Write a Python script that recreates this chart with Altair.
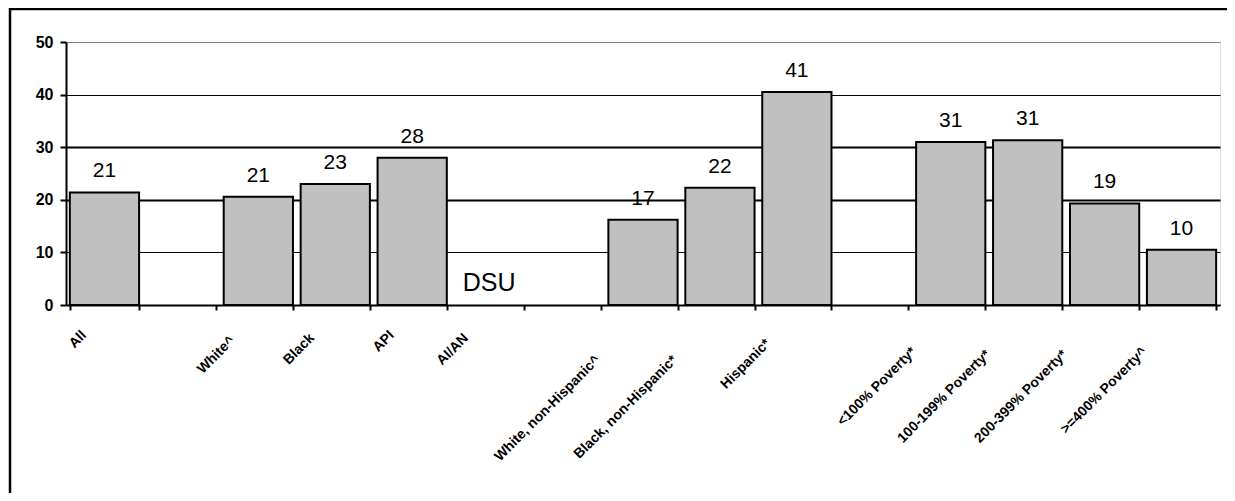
import altair as alt
import pandas as pd

categories = [
    "All", " ", "White^", "Black", "API", "AI/AN", "  ",
    "White, non-Hispanic^", "Black, non-Hispanic*", "Hispanic*", "   ",
    "<100% Poverty*", "100-199% Poverty*", "200-399% Poverty*", ">=400% Poverty^",
]
values = [21.4, None, 20.6, 23.0, 28.0, None, None,
          16.2, 22.3, 40.5, None,
          31.0, 31.3, 19.3, 10.5]
value_labels = ["21", "", "21", "23", "28", "DSU", "",
                "17", "22", "41", "",
                "31", "31", "19", "10"]
y_ticks = [0, 10, 20, 30, 40, 50]

df = pd.DataFrame({"category": categories, "value": values, "label": value_labels})

FONT = "Liberation Sans"

x_enc = alt.X(
    "category:N",
    scale=alt.Scale(domain=categories, paddingInner=0.1, paddingOuter=0.05),
    title=None,
    axis=alt.Axis(
        labelAngle=-45,
        labelAlign="right",
        labelBaseline="middle",
        labelFontSize=14,
        labelFontWeight="bold",
        labelFont=FONT,
        labelColor="black",
        labelPadding=20,
        labelOffset=-18,
        labelLimit=500,
        labelOverlap=False,
        labelExpr="pad(datum.label, floor(length(datum.label) * 1.5), '\u00a0') + '\u200b'",
        tickBand="extent",
        tickSize=5,
        tickWidth=2,
        tickColor="black",
        domainColor="black",
        domainWidth=2,
        grid=False,
    ),
)

y_scale = alt.Scale(domain=[0, 50], nice=False)
y_axis = alt.Axis(
    values=y_ticks,
    labelFontSize=16,
    labelFontWeight="bold",
    labelFont=FONT,
    labelColor="black",
    labelPadding=7,
    tickSize=6,
    tickWidth=2,
    tickColor="black",
    domainColor="black",
    domainWidth=2,
    grid=True,
    gridColor={"condition": {"test": "datum.value == 50", "value": "#808080"}, "value": "black"},
    gridWidth={"condition": {"test": "datum.value == 20 || datum.value == 30", "value": 2}, "value": 1},
    title=None,
)

base = alt.Chart(df)

bars = base.transform_filter("isValid(datum.value)").mark_bar(
    color="#C0C0C0", stroke="black", strokeWidth=2
).encode(
    x=x_enc,
    y=alt.Y("value:Q", scale=y_scale, axis=y_axis),
)

nums = base.transform_filter("isValid(datum.value)").mark_text(
    fontSize=21, font=FONT, color="black", baseline="alphabetic", dy=-15
).encode(
    x=alt.X("category:N"),
    y=alt.Y("value:Q"),
    text="label:N",
)

dsu = base.transform_filter("datum.label == 'DSU'").mark_text(
    fontSize=25, font=FONT, color="black", baseline="alphabetic", dy=-14
).encode(
    x=alt.X("category:N"),
    y=alt.Y(datum=0),
    text="label:N",
)

frame = alt.Chart(pd.DataFrame({"f": [0]})).mark_rect(
    fillOpacity=0, stroke="black", strokeWidth=2.5
).encode(
    x=alt.value(-56), x2=alt.value(1400),
    y=alt.value(-33), y2=alt.value(700),
)

chart = alt.layer(frame, bars, nums, dsu).properties(
    width=1154,
    height=263,
    autosize=alt.AutoSizeParams(type="none"),
    padding={"left": 58, "top": 34, "right": 7, "bottom": 188},
).configure_view(
    stroke="#808080", strokeWidth=1.5
).configure(font=FONT)

chart.save("out.html", embed_options={"renderer": "svg", "actions": False})
